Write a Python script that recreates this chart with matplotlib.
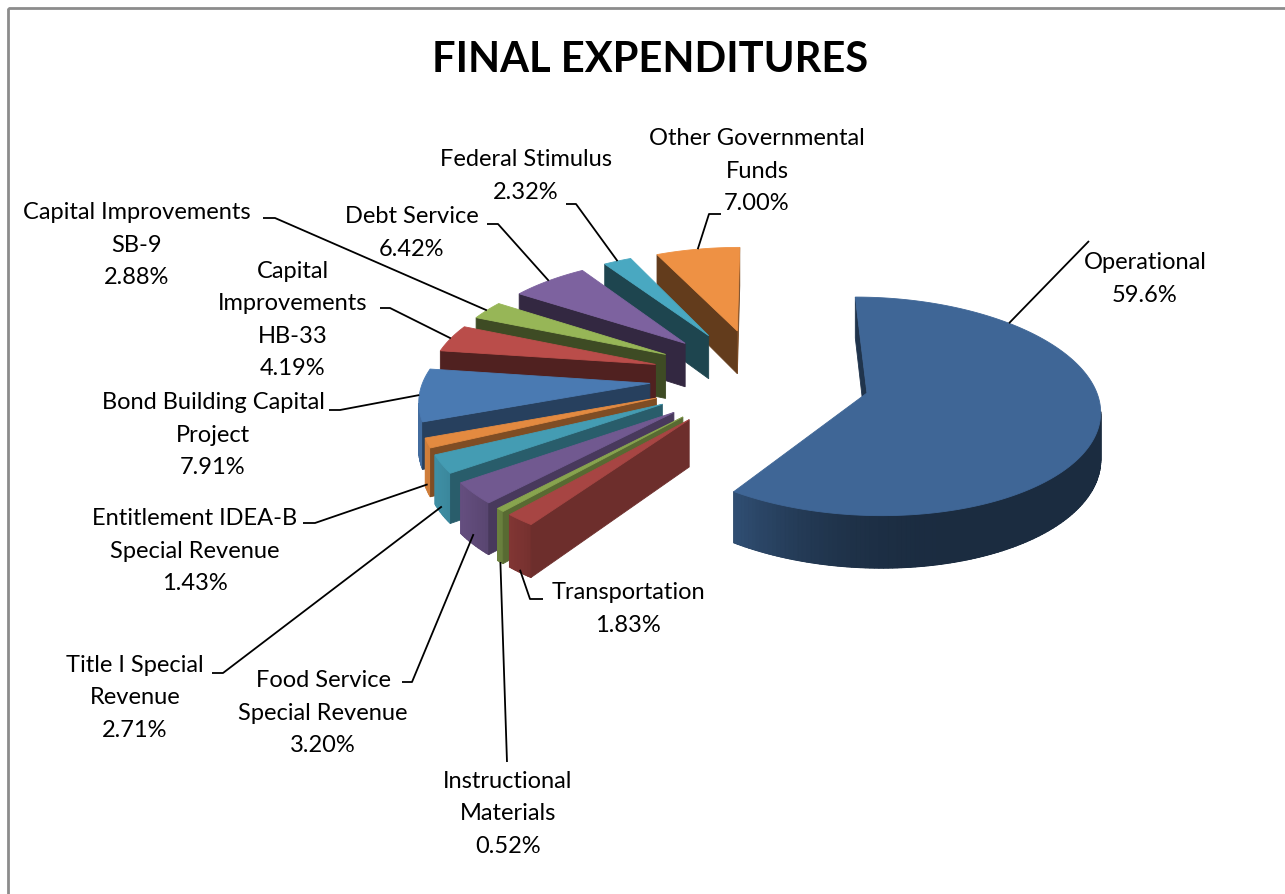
import numpy as np
import matplotlib
matplotlib.use("Agg")
import matplotlib.pyplot as plt
from matplotlib.patches import Polygon, Rectangle
from matplotlib.colors import to_rgb

# data, in the order the slices run clockwise from 12 o'clock
categories = ['Operational', 'Transportation', 'Instructional\nMaterials',
              'Food Service\nSpecial Revenue', 'Title I Special\nRevenue',
              'Entitlement IDEA-B\nSpecial Revenue', 'Bond Building Capital\nProject',
              'Capital\nImprovements\nHB-33', 'Capital Improvements\nSB-9',
              'Debt Service', 'Federal Stimulus', 'Other Governmental\nFunds']
shares = [59.6, 1.83, 0.52, 3.20, 2.71, 1.43, 7.91, 4.19, 2.88, 6.42, 2.32, 7.00]
pct_labels = ['59.6%', '1.83%', '0.52%', '3.20%', '2.71%', '1.43%', '7.91%',
              '4.19%', '2.88%', '6.42%', '2.32%', '7.00%']
palette = ['#4F81BD', '#C0504D', '#9BBB59', '#8064A2', '#4BACC6', '#F79646']

# label layout (pixels): text centre, then the leader line bend points
label_pos = [(1145, 279), (628, 609), (508, 814), (323, 713), (135, 698), (195, 551),
             (213, 435), (293, 320), (137, 245), (412, 233), (526, 176), (757, 171)]
leader_pts = [[(1089, 241)], [(530, 599), (543, 599)], [(507, 762)],
              [(412, 682), (402, 682)], [(223, 673), (212, 673)],
              [(315, 523), (303, 523)], [(340, 410), (329, 410)],
              [(390, 308), (380, 308)], [(275, 218), (263, 218)],
              [(498, 224), (487, 224)], [(576, 204), (566, 204)],
              [(709, 214), (721, 214)]]
# where on the slice the leader starts: angle offset from mid (deg), depth fraction
anchor_off = [62, 0, 0, 0, 0, 0, 0, 0, 0, 0, 0, 0]
anchor_z = [0, 0.95, 1.0, 0.8, 0.85, 0.85, 0, 0, 0, 0, 0, 0]

# 3d view settings
S, CX, CY, B, K = 226.0, 760.0, 377.7, 0.460, 0.12
H = 0.2
EXPLODE = 0.487

plt.rcParams['font.family'] = ['Lato', 'DejaVu Sans']


def project(X, Y, Z=0.0):
    X = np.asarray(X, float)
    Y = np.asarray(Y, float)
    w = 1 + K * Y
    return np.column_stack([CX + S * X / w, CY - S * (B * Y + Z) / w])


def shade(c, f):
    r, g, b = to_rgb(c)
    return (r * f, g * f, b * f)


def facing(px, py, nang):
    # is a vertical face with outward normal nang (rad) seen from the camera
    return (-px) * np.cos(nang) + (-1 / K - py) * np.sin(nang) > 0


def wall_shade(t):
    return 0.34 + 0.5 * max(0.0, np.cos(t + np.radians(160))) ** 3


fig = plt.figure(figsize=(12.85, 8.94), dpi=100)
ax = fig.add_axes([0, 0, 1, 1])
ax.set_xlim(0, 1285)
ax.set_ylim(894, 0)
ax.axis('off')

vals = np.array(shares)
before = np.concatenate([[0], np.cumsum(vals)[:-1]])
a_hi = 90 - 3.6 * before
a_lo = a_hi - 3.6 * vals
mids = np.radians((a_hi + a_lo) / 2)
ox = EXPLODE * np.cos(mids)
oy = EXPLODE * np.sin(mids)

# far slices first
order = np.argsort(-(oy + 0.5 * np.sin(mids)))

for i in order:
    col = palette[i % len(palette)]
    lo, hi = np.radians(a_lo[i]), np.radians(a_hi[i])
    n = max(3, int(a_hi[i] - a_lo[i]) + 2)
    th = np.linspace(lo, hi, n)
    rx = ox[i] + np.cos(th)
    ry = oy[i] + np.sin(th)
    top = project(rx, ry, 0)
    bot = project(rx, ry, -H)
    apex_t = project([ox[i]], [oy[i]], 0)[0]
    apex_b = project([ox[i]], [oy[i]], -H)[0]

    # outer curved wall: visible strips, with a backing polygon to hide seams
    vis = [j for j in range(n - 1)
           if facing(ox[i] + np.cos((th[j] + th[j + 1]) / 2),
                     oy[i] + np.sin((th[j] + th[j + 1]) / 2),
                     (th[j] + th[j + 1]) / 2)]
    if vis:
        j0, j1 = vis[0], vis[-1] + 1
        back = np.vstack([top[j0:j1 + 1], bot[j0:j1 + 1][::-1]])
        cb = shade(col, wall_shade(th[(j0 + j1) // 2]))
        ax.add_patch(Polygon(back, closed=True, fc=cb, ec=cb, lw=0.5, zorder=2))
        for j in vis:
            tm = (th[j] + th[j + 1]) / 2
            c = shade(col, wall_shade(tm))
            quad = [top[j], top[j + 1], bot[j + 1], bot[j]]
            ax.add_patch(Polygon(quad, closed=True, fc=c, ec=c, lw=0.9, zorder=2))

    # flat cut faces
    for k, nang in ((-1, hi + np.pi / 2), (0, lo - np.pi / 2)):
        if not facing(ox[i], oy[i], nang):
            continue
        f = 0.40 + 0.17 * max(0.0, np.cos(nang + np.radians(35))) ** 3
        c = shade(col, f)
        quad = [apex_t, top[k], bot[k], apex_b]
        ax.add_patch(Polygon(quad, closed=True, fc=c, ec=c, lw=0.6, zorder=2))

    ftop = 0.88 + 0.1 * np.cos(mids[i] - np.radians(135))
    c = shade(col, ftop)
    ax.add_patch(Polygon(np.vstack([apex_t, top]), closed=True, fc=c, ec=c,
                         lw=0.6, zorder=2))

# labels with leader lines
for i in range(len(shares)):
    am = mids[i] + np.radians(anchor_off[i])
    anc = project([ox[i] + np.cos(am)], [oy[i] + np.sin(am)], -H * anchor_z[i])[0]
    pts = [tuple(anc)] + leader_pts[i]
    xs, ys = zip(*pts)
    ax.plot(xs, ys, color='black', lw=1.3, zorder=3, solid_capstyle='butt')
    ax.text(label_pos[i][0], label_pos[i][1], categories[i] + '\n' + pct_labels[i],
            ha='center', va='center', fontsize=17, linespacing=1.68,
            color='black', zorder=4)

ax.text(650, 60, 'FINAL EXPENDITURES', ha='center', va='center',
        fontsize=30, fontweight='bold', color='black')

# chart border (only left and top edges fall inside the picture)
ax.add_patch(Rectangle((8, 8), 1400, 1000, fill=False, ec='#8c8c8c', lw=2,
                       zorder=5, clip_on=False))

fig.savefig('out.png', dpi=100)
